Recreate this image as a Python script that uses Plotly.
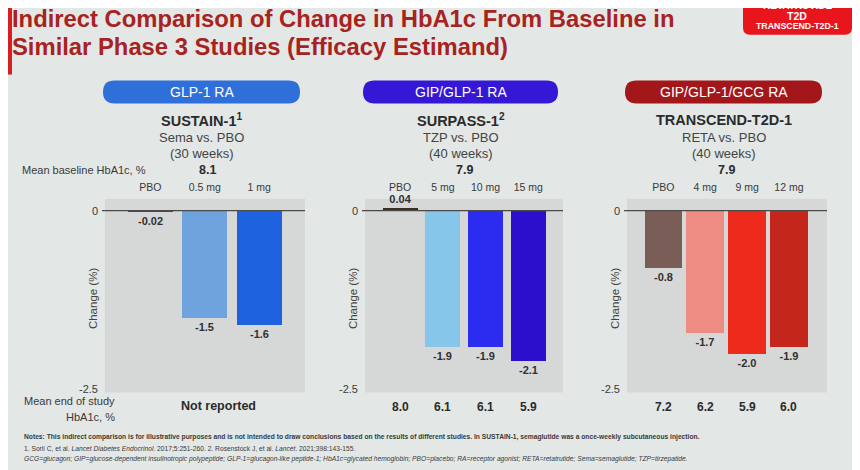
import plotly.graph_objects as go

# the page puts the figure 8px in from the top-left corner of the window
OFF = 8
W, H = 860 - OFF, 470 - OFF

# data
title_lines = ["Indirect Comparison of Change in HbA1c From Baseline in",
               "Similar Phase 3 Studies (Efficacy Estimand)"]
classes = ["GLP-1 RA", "GIP/GLP-1 RA", "GIP/GLP-1/GCG RA"]
studies = ["SUSTAIN-1<sup>1</sup>", "SURPASS-1<sup>2</sup>", "TRANSCEND-T2D-1"]
comparisons = ["Sema vs. PBO", "TZP vs. PBO", "RETA vs. PBO"]
durations = ["(30 weeks)", "(40 weeks)", "(40 weeks)"]
baseline_hba1c = ["8.1", "7.9", "7.9"]

sustain_doses = ["PBO", "0.5 mg", "1 mg"]
sustain_change = [-0.02, -1.5, -1.6]

surpass_doses = ["PBO", "5 mg", "10 mg", "15 mg"]
surpass_change = [0.04, -1.9, -1.9, -2.1]
surpass_end = ["8.0", "6.1", "6.1", "5.9"]

transcend_doses = ["PBO", "4 mg", "9 mg", "12 mg"]
transcend_change = [-0.8, -1.7, -2.0, -1.9]
transcend_end = ["7.2", "6.2", "5.9", "6.0"]

notes = [
    "<b>Notes: This indirect comparison is for illustrative purposes and is not intended to draw conclusions based on the results of different studies. In SUSTAIN-1, semaglutide was a once-weekly subcutaneous injection.</b>",
    "1. Sorli C, et al. <i>Lancet Diabetes Endocrinol</i>. 2017;5:251-260. 2. Rosenstock J, et al. <i>Lancet</i>. 2021;398:143-155.",
    "<i>GCG=glucagon; GIP=glucose-dependent insulinotropic polypeptide; GLP-1=glucagon-like peptide-1; HbA1c=glycated hemoglobin; PBO=placebo; RA=receptor agonist; RETA=retatrutide; Sema=semaglutide; TZP=tirzepatide.</i>",
]

# styling
FONT = "Liberation Sans, Arial, sans-serif"
bg = "#e3e7e5"
panel_bg = "#d6d8d8"
title_color = "#a8221e"
pill_colors = ["#2f6fd9", "#3418d6", "#a3171b"]
bar_colors = [
    ["#4a4a4a", "#6fa3de", "#1f62e0"],
    ["#3a2e22", "#86c6ea", "#2b2cf0", "#2c0fcc"],
    ["#7b5d58", "#ee8b83", "#ee2a1c", "#c4261c"],
]


def px(x):
    return (x - OFF) / W


def py(y):
    return 1 - (y - OFF) / H


# panel placement in window pixels
panel_x = [(105, 305), (365, 563), (627, 827)]
panel_top, panel_bot = 200, 395
x_ranges = [[-0.83, 2.84], [-0.82, 3.81], [-0.87, 3.91]]
bar_widths = [0.83, 0.82, 0.9]
y_range = [-2.54, 0.167]

dose_sets = [sustain_doses, surpass_doses, transcend_doses]
change_sets = [sustain_change, surpass_change, transcend_change]

fig = go.Figure()
shapes = []
annotations = []

for i in range(3):
    n = "" if i == 0 else str(i + 1)
    fig.add_trace(go.Bar(
        x=dose_sets[i], y=change_sets[i],
        xaxis="x" + n, yaxis="y" + n,
        marker=dict(color=bar_colors[i], line=dict(width=0)),
        width=bar_widths[i],
        text=[str(v) for v in change_sets[i]],
        textposition="outside",
        textfont=dict(size=11, color="#303030", family=FONT, weight="bold"),
        cliponaxis=False,
        hoverinfo="skip",
        showlegend=False,
    ))
    x0, x1 = panel_x[i]
    fig.update_layout(**{
        "xaxis" + n: dict(
            domain=[px(x0), px(x1)], anchor="y" + n, side="top",
            range=x_ranges[i], showgrid=False, zeroline=False,
            showline=False, ticks="", ticklabelstandoff=5,
            tickfont=dict(size=10.5, color="#3a3a3a", family=FONT),
        ),
        "yaxis" + n: dict(
            domain=[py(panel_bot), py(panel_top)], anchor="x" + n,
            range=y_range, tickvals=[0, -2.5], ticktext=["0", "-2.5"],
            showgrid=False, zeroline=False, showline=False, ticks="",
            ticklabelstandoff=6,
            tickfont=dict(size=11, color="#3a3a3a", family=FONT),
        ),
    })
    # zero line running a little past the left of the panel
    shapes.append(dict(type="line", xref="paper", yref="y" + n,
                       x0=px(x0 - 3), x1=px(x1), y0=0, y1=0,
                       line=dict(color="#4a4a4a", width=1.3), layer="above"))

    # class pill
    cx0, cx1 = x0 - 2, x1 - 5
    ty, by = 81, 104
    r = (by - ty) / 2
    path = (f"M {px(cx0 + r)} {py(ty)} L {px(cx1 - r)} {py(ty)} "
            f"Q {px(cx1)} {py(ty)} {px(cx1)} {py(ty + r)} "
            f"Q {px(cx1)} {py(by)} {px(cx1 - r)} {py(by)} "
            f"L {px(cx0 + r)} {py(by)} "
            f"Q {px(cx0)} {py(by)} {px(cx0)} {py(ty + r)} "
            f"Q {px(cx0)} {py(ty)} {px(cx0 + r)} {py(ty)} Z")
    shapes.append(dict(type="path", xref="paper", yref="paper", path=path,
                       fillcolor=pill_colors[i], line=dict(width=0), layer="below"))
    mid = (cx0 + cx1) / 2
    annotations.append(dict(x=px(mid), y=py(92.5), text=classes[i],
                            font=dict(size=14, color="white", family=FONT)))
    annotations.append(dict(x=px(mid), y=py(121), text="<b>" + studies[i] + "</b>",
                            font=dict(size=14.5, color="#2b2b2b", family=FONT)))
    annotations.append(dict(x=px(mid), y=py(138), text=comparisons[i],
                            font=dict(size=13, color="#444", family=FONT)))
    annotations.append(dict(x=px(mid), y=py(154), text=durations[i],
                            font=dict(size=13, color="#444", family=FONT)))
    annotations.append(dict(x=1.05 if i == 0 else 1.5, xref="x" + n, y=py(171),
                            text="<b>" + baseline_hba1c[i] + "</b>",
                            font=dict(size=12.5, color="#2b2b2b", family=FONT)))
    annotations.append(dict(x=px(x0 - 12), y=py(300), text="Change (%)",
                            textangle=-90,
                            font=dict(size=11.5, color="#444", family=FONT)))

# end of study row
end_sets = [None, surpass_end, transcend_end]
for i in (1, 2):
    n = str(i + 1)
    for d, v in zip(dose_sets[i], end_sets[i]):
        annotations.append(dict(x=d, xref="x" + n, y=py(410), text="<b>" + v + "</b>",
                                font=dict(size=12, color="#2b2b2b", family=FONT)))
annotations.append(dict(x=px(218), y=py(409), text="<b>Not reported</b>",
                        font=dict(size=12.5, color="#2b2b2b", family=FONT)))
annotations.append(dict(x=px(117), y=py(404), xanchor="right",
                        text="Mean end of study",
                        font=dict(size=11, color="#3a3a3a", family=FONT)))
annotations.append(dict(x=px(117), y=py(420), xanchor="right",
                        text="HbA1c, %",
                        font=dict(size=11, color="#3a3a3a", family=FONT)))
annotations.append(dict(x=px(20), y=py(171), xanchor="left",
                        text="Mean baseline HbA1c, %",
                        font=dict(size=11, color="#3a3a3a", family=FONT)))

# title
for k, line in enumerate(title_lines):
    annotations.append(dict(x=px(10), y=py(18.5 + 28.5 * k), xanchor="left",
                            text="<b>" + line + "</b>",
                            font=dict(size=23.8, color=title_color, family=FONT)))

# red edge strip at top left of the slide
shapes.append(dict(type="rect", xref="paper", yref="paper",
                   x0=px(OFF), x1=px(OFF + 4), y0=py(75), y1=py(OFF),
                   fillcolor="#d81e1e", line=dict(width=0), layer="below"))

# badge top right
shapes.append(dict(type="path", xref="paper", yref="paper",
                   path=(f"M {px(743)} {py(-5)} L {px(852)} {py(-5)} L {px(852)} {py(28)} "
                         f"Q {px(852)} {py(35)} {px(845)} {py(35)} L {px(750)} {py(35)} "
                         f"Q {px(743)} {py(35)} {px(743)} {py(28)} Z"),
                   fillcolor="#e8151d", line=dict(width=0), layer="below"))
annotations.append(dict(x=px(797), y=py(5.5), text="<b>RETATRUTIDE</b>",
                        font=dict(size=10, color="white", family=FONT)))
annotations.append(dict(x=px(797), y=py(16), text="<b>T2D</b>",
                        font=dict(size=10.5, color="white", family=FONT)))
annotations.append(dict(x=px(797), y=py(26.5), text="<b>TRANSCEND-T2D-1</b>",
                        font=dict(size=8.8, color="white", family=FONT)))

# footnotes
for k, line in enumerate(notes):
    annotations.append(dict(x=px(22), y=py(440 + 11 * k), xanchor="left",
                            text=line,
                            font=dict(size=6.7, color="#3a3a3a", family=FONT)))

for a in annotations:
    a.setdefault("xref", "paper")
    a.setdefault("yref", "paper")
    a.setdefault("xanchor", "center")
    a["yanchor"] = "middle"
    a["showarrow"] = False

fig.update_layout(
    width=W, height=H, autosize=False,
    margin=dict(l=0, r=0, t=0, b=0),
    paper_bgcolor=bg, plot_bgcolor=panel_bg,
    font=dict(family=FONT),
    shapes=shapes, annotations=annotations,
    bargap=0,
)

fig.write_html("out.html")
